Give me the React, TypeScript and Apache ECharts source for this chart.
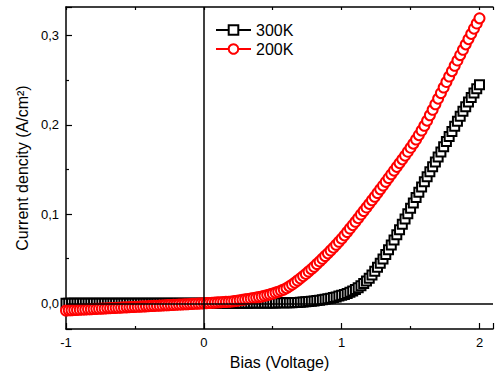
import React, { useEffect, useRef } from "react";
import * as echarts from "echarts";

// Bias sweep (V)
const bias = [
  -1.0, -0.98, -0.96, -0.94, -0.92, -0.9, -0.88, -0.86, -0.84, -0.82,
  -0.8, -0.78, -0.76, -0.74, -0.72, -0.7, -0.68, -0.66, -0.64, -0.62,
  -0.6, -0.58, -0.56, -0.54, -0.52, -0.5, -0.48, -0.46, -0.44, -0.42,
  -0.4, -0.38, -0.36, -0.34, -0.32, -0.3, -0.28, -0.26, -0.24, -0.22,
  -0.2, -0.18, -0.16, -0.14, -0.12, -0.1, -0.08, -0.06, -0.04, -0.02,
  0.0, 0.02, 0.04, 0.06, 0.08, 0.1, 0.12, 0.14, 0.16, 0.18,
  0.2, 0.22, 0.24, 0.26, 0.28, 0.3, 0.32, 0.34, 0.36, 0.38,
  0.4, 0.42, 0.44, 0.46, 0.48, 0.5, 0.52, 0.54, 0.56, 0.58,
  0.6, 0.62, 0.64, 0.66, 0.68, 0.7, 0.72, 0.74, 0.76, 0.78,
  0.8, 0.82, 0.84, 0.86, 0.88, 0.9, 0.92, 0.94, 0.96, 0.98,
  1.0, 1.02, 1.04, 1.06, 1.08, 1.1, 1.12, 1.14, 1.16, 1.18,
  1.2, 1.22, 1.24, 1.26, 1.28, 1.3, 1.32, 1.34, 1.36, 1.38,
  1.4, 1.42, 1.44, 1.46, 1.48, 1.5, 1.52, 1.54, 1.56, 1.58,
  1.6, 1.62, 1.64, 1.66, 1.68, 1.7, 1.72, 1.74, 1.76, 1.78,
  1.8, 1.82, 1.84, 1.86, 1.88, 1.9, 1.92, 1.94, 1.96, 1.98,
  2.0,
];

// Current density at 300K (A/cm2)
const current300K = [
  0, 0, 0, 0, 0, 0, 0, 0, 0, 0,
  0, 0, 0, 0, 0, 0, 0, 0, 0, 0,
  0, 0, 0, 0, 0, 0, 0, 0, 0, 0,
  0, 0, 0, 0, 0, 0, 0, 0, 0, 0,
  0, 0, 0, 0, 0, 0, 0, 0, 0, 0,
  0.0, 0.0, 0.0, 0.0, 0.0001, 0.0001, 0.0001, 0.0001, 0.0001, 0.0001,
  0.0001, 0.0002, 0.0002, 0.0002, 0.0002, 0.0002, 0.0002, 0.0003, 0.0003, 0.0003,
  0.0003, 0.0003, 0.0004, 0.0004, 0.0004, 0.0004, 0.0004, 0.0005, 0.0005, 0.0005,
  0.0005, 0.0006, 0.0007, 0.0008, 0.001, 0.0012, 0.0014, 0.0017, 0.002, 0.0023,
  0.0027, 0.0031, 0.0035, 0.004, 0.0045, 0.005, 0.0057, 0.0064, 0.0072, 0.0081,
  0.009, 0.01, 0.0111, 0.0123, 0.0138, 0.0155, 0.0175, 0.0197, 0.0222, 0.025,
  0.028, 0.0318, 0.036, 0.0404, 0.045, 0.0498, 0.0548, 0.06, 0.0654, 0.071,
  0.0768, 0.0826, 0.0885, 0.0945, 0.1005, 0.1065, 0.1125, 0.1185, 0.1245, 0.1305,
  0.1363, 0.142, 0.1475, 0.153, 0.1585, 0.164, 0.1697, 0.1755, 0.1813, 0.187,
  0.1927, 0.1985, 0.2042, 0.2098, 0.2152, 0.2205, 0.2257, 0.2307, 0.2357, 0.2405,
  0.245,
];

// Current density at 200K (A/cm2)
const current200K = [
  -0.008, -0.0078, -0.0077, -0.0075, -0.0074, -0.0072, -0.007, -0.0069, -0.0067, -0.0066,
  -0.0064, -0.0062, -0.0061, -0.0059, -0.0058, -0.0056, -0.0054, -0.0053, -0.0051, -0.005,
  -0.0048, -0.0046, -0.0045, -0.0043, -0.0042, -0.004, -0.0038, -0.0037, -0.0035, -0.0034,
  -0.0032, -0.003, -0.0029, -0.0027, -0.0026, -0.0024, -0.0022, -0.0021, -0.0019, -0.0018,
  -0.0016, -0.0014, -0.0013, -0.0011, -0.001, -0.0008, -0.0006, -0.0005, -0.0003, -0.0002,
  0.0, 0.0002, 0.0004, 0.0006, 0.0008, 0.001, 0.0012, 0.0014, 0.0016, 0.0018,
  0.0021, 0.0025, 0.0029, 0.0034, 0.0039, 0.0044, 0.0049, 0.0054, 0.0059, 0.0064,
  0.007, 0.0077, 0.0084, 0.0092, 0.01, 0.011, 0.012, 0.013, 0.0142, 0.0155,
  0.017, 0.019, 0.021, 0.0232, 0.0255, 0.028, 0.0305, 0.033, 0.0356, 0.0383,
  0.041, 0.044, 0.047, 0.05, 0.053, 0.056, 0.0592, 0.0624, 0.0656, 0.069,
  0.0725, 0.0762, 0.08, 0.0838, 0.0877, 0.0915, 0.0955, 0.0995, 0.1035, 0.1075,
  0.1115, 0.1155, 0.1195, 0.1236, 0.1278, 0.132, 0.1362, 0.1404, 0.1446, 0.1488,
  0.153, 0.1572, 0.1614, 0.1656, 0.17, 0.1745, 0.179, 0.1837, 0.1886, 0.1937,
  0.199, 0.2048, 0.2108, 0.217, 0.2232, 0.2295, 0.2357, 0.242, 0.2482, 0.2543,
  0.2603, 0.2663, 0.2723, 0.2783, 0.2843, 0.2903, 0.2962, 0.3021, 0.308, 0.3138,
  0.3195,
];

const seriesNames = ["300K", "200K"];
const xTitle = "Bias (Voltage)";
const yTitle = "Current dencity (A/cm\u00B2)";

const FONT = "'Liberation Sans', Arial, Helvetica, sans-serif";

export default function App() {
  const ref = useRef<HTMLDivElement>(null);

  useEffect(() => {
    if (!ref.current) return;
    const chart = echarts.init(ref.current, null, { renderer: "svg" });
    const pair = (ys: number[]) => bias.map((x, i) => [x, ys[i]]);

    const fmtX = (v: number) =>
      Math.abs(v - Math.round(v)) < 1e-6 ? String(Math.round(v)) : "";
    const fmtY = (v: number) => {
      const r = Math.round(v * 10) / 10;
      if (Math.abs(v - r) > 1e-6) return "";
      return r.toFixed(1).replace(".", ",");
    };

    const axisLine = { show: true, onZero: false, lineStyle: { color: "#000", width: 1.5 } };

    chart.setOption({
      animation: false,
      backgroundColor: "#fff",
      textStyle: { fontFamily: FONT },
      grid: { left: 66, right: 0, top: 7, bottom: 49 },
      legend: {
        orient: "vertical",
        left: 215,
        top: 22,
        padding: 0,
        itemWidth: 35,
        itemHeight: 12,
        itemGap: 3,
        data: seriesNames,
        textStyle: { fontSize: 16, color: "#000", fontFamily: FONT },
      },
      xAxis: [
        {
          type: "value",
          position: "bottom",
          min: -1,
          max: 2.098,
          splitNumber: 3,
          name: xTitle,
          nameLocation: "middle",
          nameGap: 25,
          nameTextStyle: { fontSize: 16, color: "#000", fontFamily: FONT },
          axisLine,
          axisTick: { show: true, inside: true, length: 6, lineStyle: { color: "#000", width: 1.2 } },
          minorTick: { show: true, splitNumber: 2, length: 3, lineStyle: { color: "#000", width: 1.2 } },
          axisLabel: { fontSize: 13, color: "#000", margin: 7, formatter: fmtX, fontFamily: FONT },
          splitLine: { show: false },
        },
        {
          type: "value",
          position: "top",
          min: -1,
          max: 2.098,
          splitNumber: 6,
          axisLine,
          axisTick: { show: true, inside: true, length: 3, lineStyle: { color: "#000", width: 1.2 } },
          axisLabel: { show: false },
          splitLine: { show: false },
        },
      ],
      yAxis: {
        type: "value",
        min: -0.0288,
        max: 0.3322,
        splitNumber: 5,
        name: yTitle,
        nameLocation: "middle",
        nameGap: 35,
        nameTextStyle: { fontSize: 16, color: "#000", fontFamily: FONT },
        axisLine,
        axisTick: { show: true, inside: true, length: 6, lineStyle: { color: "#000", width: 1.2 } },
        minorTick: { show: true, splitNumber: 2, length: 3, lineStyle: { color: "#000", width: 1.2 } },
        axisLabel: { fontSize: 13, color: "#000", margin: 7, formatter: fmtY, fontFamily: FONT },
        splitLine: { show: false },
      },
      series: [
        {
          name: "refLines",
          type: "line",
          data: [],
          z: 1,
          silent: true,
          markLine: {
            silent: true,
            symbol: ["none", "none"],
            label: { show: false },
            lineStyle: { color: "#000", type: "solid", width: 1.5 },
            data: [{ xAxis: 0 }, { yAxis: 0 }],
          },
        },
        {
          name: seriesNames[0],
          type: "line",
          data: pair(current300K),
          z: 3,
          symbol: "emptyRect",
          symbolSize: 9,
          showSymbol: true,
          itemStyle: { color: "#000", borderColor: "#000", borderWidth: 0.8 },
          lineStyle: { color: "#000", width: 1 },
        },
        {
          name: seriesNames[1],
          type: "line",
          data: pair(current200K),
          z: 4,
          symbol: "emptyCircle",
          symbolSize: 10,
          showSymbol: true,
          itemStyle: { color: "#ff0000", borderColor: "#ff0000", borderWidth: 0.8 },
          lineStyle: { color: "#ff0000", width: 1 },
        },
      ],
    });

    return () => chart.dispose();
  }, []);

  return (
    <div
      ref={ref}
      style={{ position: "fixed", left: 0, top: 0, width: 496, height: 378, background: "#fff" }}
    />
  );
}
